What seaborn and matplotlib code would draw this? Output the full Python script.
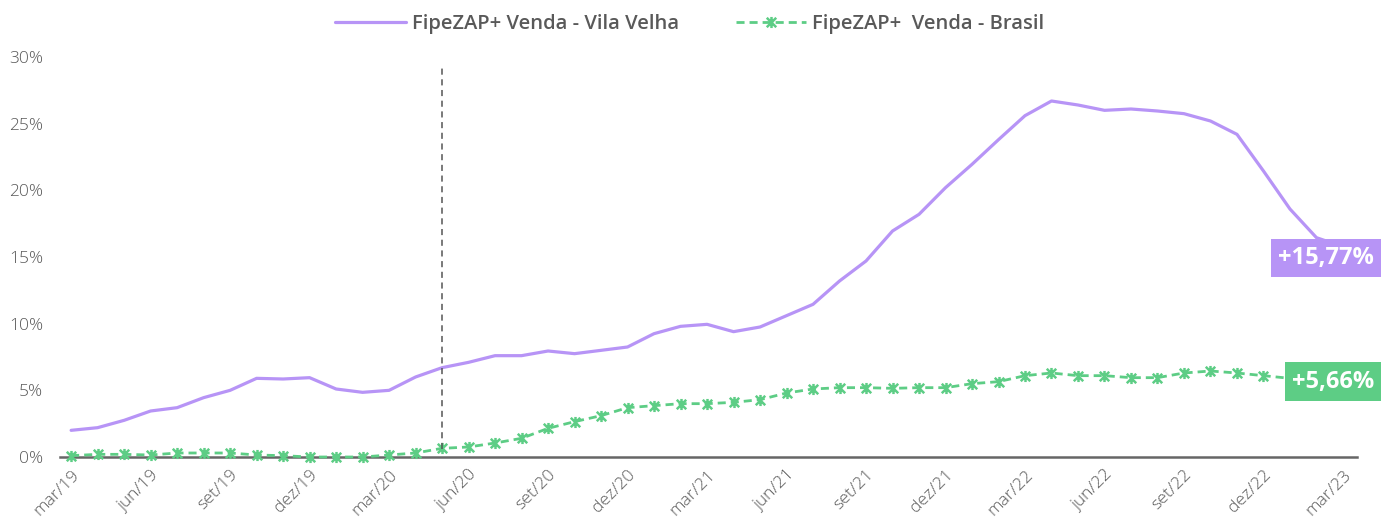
import matplotlib
matplotlib.use("Agg")
import matplotlib.pyplot as plt
import matplotlib.transforms as mtransforms
from matplotlib.path import Path
import seaborn as sns
import pandas as pd
import numpy as np

# ---------------- data ----------------
meses_nomes = ["jan", "fev", "mar", "abr", "mai", "jun", "jul", "ago", "set", "out", "nov", "dez"]
meses = []
for ano in range(19, 24):
    for m_i, m in enumerate(meses_nomes):
        if ano == 19 and m_i < 2:
            continue
        if ano == 23 and m_i > 2:
            continue
        meses.append(f"{m}/{ano}")

vila_velha = [2.0, 2.2, 2.75, 3.45, 3.7, 4.45, 5.0, 5.9, 5.85, 5.95, 5.1, 4.85, 5.0, 6.0, 6.7,
              7.1, 7.6, 7.6, 7.95, 7.75, 8.0, 8.25, 9.25, 9.8, 9.95, 9.4, 9.75, 10.6, 11.45, 13.2,
              14.7, 16.95, 18.2, 20.2, 21.95, 23.8, 25.6, 26.7, 26.4, 26.0, 26.1, 25.95, 25.75, 25.2,
              24.2, 21.45, 18.6, 16.45, 15.77]
brasil = [0.1, 0.2, 0.2, 0.15, 0.3, 0.3, 0.3, 0.15, 0.1, 0.0, 0.0, 0.0, 0.15, 0.3, 0.65,
          0.75, 1.05, 1.4, 2.15, 2.65, 3.1, 3.7, 3.85, 4.0, 4.0, 4.1, 4.3, 4.8, 5.1, 5.2,
          5.2, 5.15, 5.2, 5.2, 5.5, 5.65, 6.1, 6.3, 6.1, 6.1, 5.95, 5.95, 6.3, 6.45, 6.3,
          6.1, 5.9, 5.75, 5.66]
serie_labels = ["FipeZAP+ Venda - Vila Velha", "FipeZAP+  Venda - Brasil"]
final_labels = ["+15,77%", "+5,66%"]
marco_mes = "mai/20"
y_ticks = [0, 5, 10, 15, 20, 25, 30]

# ---------------- style ----------------
sns.set_theme(style="white")
plt.rcParams["font.family"] = ["Open Sans", "DejaVu Sans"]

roxo = "#b794f6"
verde = "#5dcd85"
cinza = "#595959"

# asterisk marker: X with a vertical bar
star = Path([(0, -1), (0, 1), (-0.85, -0.85), (0.85, 0.85), (-0.85, 0.85), (0.85, -0.85)],
            [Path.MOVETO, Path.LINETO, Path.MOVETO, Path.LINETO, Path.MOVETO, Path.LINETO])

df = pd.DataFrame({"x": np.arange(len(meses)), "vv": vila_velha, "br": brasil})

fig = plt.figure(figsize=(13.81, 5.2), dpi=100)
ax = fig.add_axes([60 / 1381, 1 - 457 / 520, 1297 / 1381, 400 / 520])

sns.lineplot(data=df, x="x", y="vv", ax=ax, color=roxo, linewidth=2.3, label=serie_labels[0])
sns.lineplot(data=df, x="x", y="br", ax=ax, color=verde, linewidth=2, label=serie_labels[1],
             marker=star, markersize=8, markeredgewidth=1.8, markeredgecolor=verde,
             markerfacecolor="none", dashes=False, clip_on=False)
ax.lines[-1].set_dashes([2.9, 1.8])

# vertical marker line
xm = meses.index(marco_mes)
ax.plot([xm, xm], [0.6, 29.5], color="#555555", linewidth=1.1, dashes=[4, 3])

ax.set_xlim(-0.42, 48.53)
ax.set_ylim(0, 30)
ax.set_yticks(y_ticks)
ax.set_yticklabels([f"{v}%" for v in y_ticks], color=cinza, fontsize=12.5, fontweight="light")
tick_pos = list(range(0, len(meses), 3))
ax.set_xticks(tick_pos)
ax.set_xticklabels([meses[i] for i in tick_pos], rotation=45, ha="right", rotation_mode="anchor",
                   color=cinza, fontsize=12.5, fontweight="light")
ax.tick_params(axis="y", length=0, pad=12)
ax.tick_params(axis="x", length=0, pad=7)
ax.set_xlabel("")
ax.set_ylabel("")
for s in ["top", "right", "left"]:
    ax.spines[s].set_visible(False)
ax.spines["bottom"].set_color("#666666")
ax.spines["bottom"].set_linewidth(1.8)
ax.spines["bottom"].set_zorder(1)

# legend
handles, labels = ax.get_legend_handles_labels()
ax.get_legend().remove()
leg = fig.legend(handles, labels, loc="center", bbox_to_anchor=(0.4995, 0.954), ncol=2,
                 frameon=False, fontsize=14.5, handlelength=3.5, columnspacing=2.8,
                 handletextpad=0.3)
for t in leg.get_texts():
    t.set_color(cinza)
    t.set_fontweight("semibold")

# end labels
trans = mtransforms.blended_transform_factory(fig.transFigure, ax.transData)
ax.text(1 - 7 / 1381, vila_velha[-1] - 0.85, final_labels[0], transform=trans, ha="right",
        va="center", color="white", fontsize=17, fontweight="bold",
        bbox=dict(boxstyle="square,pad=0.3", fc=roxo, ec="none"), zorder=10)
ax.text(1 - 7 / 1381, brasil[-1], final_labels[1], transform=trans, ha="right",
        va="center", color="white", fontsize=17, fontweight="bold",
        bbox=dict(boxstyle="square,pad=0.3", fc=verde, ec="none"), zorder=10)

fig.savefig("out.png", dpi=100)
